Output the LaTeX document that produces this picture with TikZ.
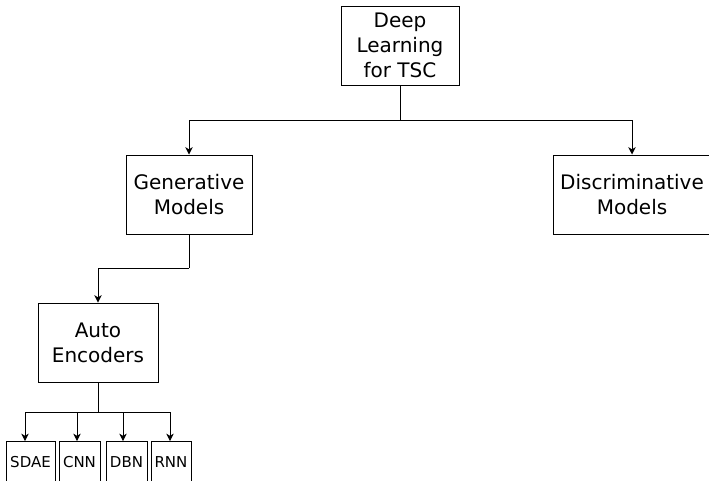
\documentclass[tikz,border=0pt]{standalone}
\usepackage{fontspec}
\setmainfont{DejaVu Sans}
\usetikzlibrary{arrows.meta,calc}

\tikzset{
  box/.style={draw=black, line width=0.75pt, rectangle, inner sep=0pt,
    align=center, font=\fontsize{15}{18.75}\selectfont},
  leaf/.style={draw=black, line width=0.75pt, rectangle, inner sep=0pt,
    align=center, font=\fontsize{11.25}{13.5}\selectfont},
  link/.style={draw=black, line width=0.75pt},
  arr/.style={link, -{Stealth[length=5.5pt,width=5.5pt,inset=1.6pt]}}
}

\begin{document}
\begin{tikzpicture}[x=0.75pt, y=-0.75pt]
  \useasboundingbox (0,0) rectangle (709,480);
  \clip (0,0) rectangle (709,480);

  % main boxes
  \node[box, minimum width=118*0.75pt, minimum height=79*0.75pt] (dl) at (400,45.5)
    {Deep\\Learning\\for TSC};
  \node[box, minimum width=126*0.75pt, minimum height=79*0.75pt] (gen) at (189,194.5)
    {Generative\\Models};
  \node[box, minimum width=158*0.75pt, minimum height=79*0.75pt] (disc) at (632,194.5)
    {Discriminative\\Models};
  \node[box, minimum width=120*0.75pt, minimum height=79*0.75pt] (ae) at (98,342.5)
    {Auto\\Encoders};

  % leaf boxes
  \node[leaf, minimum width=49*0.75pt, minimum height=42*0.75pt, anchor=north] (sdae) at (30.5,441) {SDAE};
  \node[leaf, minimum width=41*0.75pt, minimum height=42*0.75pt, anchor=north] (cnn) at (79.5,441) {CNN};
  \node[leaf, minimum width=41*0.75pt, minimum height=42*0.75pt, anchor=north] (dbn) at (126.5,441) {DBN};
  \node[leaf, minimum width=40*0.75pt, minimum height=42*0.75pt, anchor=north] (rnn) at (171,441) {RNN};

  % junction points
  \coordinate (split) at (400,120);
  \coordinate (bend) at (189,268);
  \coordinate (fan) at (98,412);

  % connectors
  \draw[link] (dl.south) -- (split);
  \draw[arr] (split) -| (gen.north);
  \draw[arr] (split) -| (disc.north);

  \draw[link] (gen.south) -- (bend);
  \draw[arr] (bend) -| (ae.north);

  \draw[link] (ae.south) -- (fan);
  \draw[arr] (fan) -| ([xshift=-5.5*0.75pt]sdae.north);
  \draw[arr] (fan) -| ([xshift=-2.5*0.75pt]cnn.north);
  \draw[arr] (fan) -| ([xshift=-3.5*0.75pt]dbn.north);
  \draw[arr] (fan) -| ([xshift=-1*0.75pt]rnn.north);
\end{tikzpicture}
\end{document}
